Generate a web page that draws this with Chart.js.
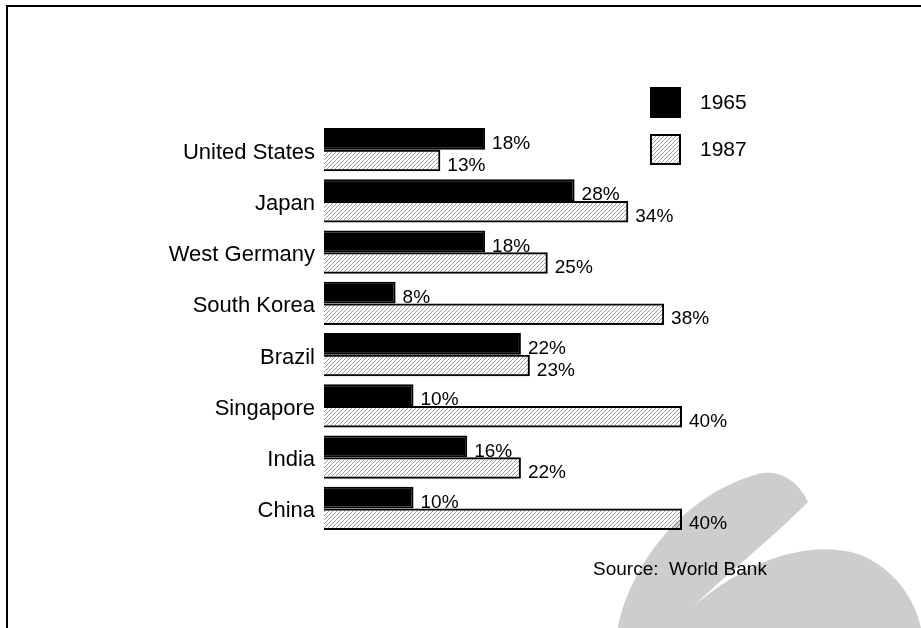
<!DOCTYPE html>
<html>
<head>
<meta charset="utf-8">
<script src="https://cdn.jsdelivr.net/npm/chart.js@4.4.1/dist/chart.umd.min.js"></script>
<style>
  html, body { margin: 0; padding: 0; background: #ffffff; }
  canvas { display: block; }
</style>
</head>
<body>
<canvas id="chart" width="921" height="628"></canvas>
<script>
// Share of investment in GDP, by country
const countries = ['United States', 'Japan', 'West Germany', 'South Korea', 'Brazil', 'Singapore', 'India', 'China'];
const years = ['1965', '1987'];
const values1965 = [18, 28, 18, 8, 22, 10, 16, 10];
const values1987 = [13, 34, 25, 38, 23, 40, 22, 40];
const sourceNote = 'Source:  World Bank';

const FONT = '"Liberation Sans", Arial, Helvetica, sans-serif';

// Fine diagonal hatching on a transparent background, one pixel per step
function makeHatch() {
  const n = 4;
  const c = document.createElement('canvas');
  c.width = n; c.height = n;
  const g = c.getContext('2d');
  g.fillStyle = 'rgba(0,0,0,0.38)';
  for (let i = 0; i < n; i++) g.fillRect(i, n - 1 - i, 1, 1);
  return document.getElementById('chart').getContext('2d').createPattern(c, 'repeat');
}
const hatch = makeHatch();

// Page frame and the grey emblem behind the bars
const backdrop = {
  id: 'backdrop',
  beforeDatasetsDraw(chart) {
    const ctx = chart.ctx;
    ctx.save();
    ctx.fillStyle = '#cdcdcd';
    ctx.beginPath();
    ctx.moveTo(618, 628);
    ctx.bezierCurveTo(628, 572, 678, 496, 758, 474);
    ctx.bezierCurveTo(782, 468, 800, 484, 808, 502);
    ctx.bezierCurveTo(770, 540, 720, 580, 693, 607);
    ctx.bezierCurveTo(740, 565, 805, 538, 858, 554);
    ctx.bezierCurveTo(895, 568, 915, 600, 921, 628);
    ctx.closePath();
    ctx.fill();
    ctx.fillStyle = '#000000';
    ctx.fillRect(6, 5, 915, 2);
    ctx.fillRect(6, 5, 2, 623);
    ctx.restore();
  }
};

// Value labels, legend and source note
const annotations = {
  id: 'annotations',
  afterDatasetsDraw(chart) {
    const ctx = chart.ctx;
    ctx.save();
    ctx.fillStyle = '#000000';
    ctx.textBaseline = 'middle';
    ctx.textAlign = 'left';
    ctx.font = '19px ' + FONT;
    chart.data.datasets.forEach((ds, i) => {
      chart.getDatasetMeta(i).data.forEach((bar, j) => {
        ctx.fillText(ds.data[j] + '%', bar.x + 7, bar.y + 5);
      });
    });

    // legend
    const ly = [87, 134];
    chart.data.datasets.forEach((ds, i) => {
      ctx.fillStyle = '#ffffff';
      ctx.fillRect(650, ly[i], 31, 31);
      ctx.fillStyle = ds.backgroundColor;
      ctx.fillRect(650, ly[i], 31, 31);
      ctx.lineWidth = 2;
      ctx.strokeStyle = '#000000';
      ctx.strokeRect(651, ly[i] + 1, 29, 29);
      ctx.fillStyle = '#000000';
      ctx.font = '21px ' + FONT;
      ctx.fillText(ds.label, 700, ly[i] + 16);
    });

    ctx.font = '19px ' + FONT;
    ctx.fillText(sourceNote, 593, 570);
    ctx.restore();
  }
};

new Chart(document.getElementById('chart'), {
  type: 'bar',
  data: {
    labels: countries,
    datasets: [
      { label: years[0], data: values1965, backgroundColor: '#000000', borderColor: '#000000', borderWidth: 2 },
      { label: years[1], data: values1987, backgroundColor: hatch, borderColor: '#000000', borderWidth: 2 }
    ]
  },
  options: {
    indexAxis: 'y',
    responsive: false,
    animation: false,
    devicePixelRatio: 1,
    layout: { padding: { left: 0, right: 239, top: 124, bottom: 94 } },
    datasets: { bar: { categoryPercentage: 0.84, barPercentage: 1.0 } },
    plugins: { legend: { display: false }, tooltip: { enabled: false } },
    scales: {
      x: { display: false, min: 0, max: 40 },
      y: {
        grid: { display: false, drawTicks: false },
        border: { display: false },
        ticks: { color: '#000000', font: { family: FONT, size: 22 }, padding: 9, labelOffset: 3, autoSkip: false },
        afterFit(scale) { scale.width = 324; }
      }
    }
  },
  plugins: [backdrop, annotations]
});
</script>
</body>
</html>
